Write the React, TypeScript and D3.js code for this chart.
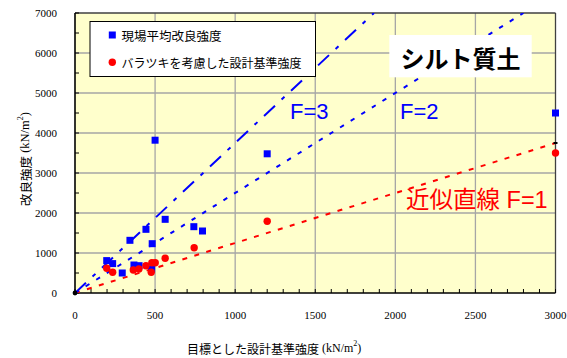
import React from "react";
import * as d3 from "d3";

// Field-average improved strength (kN/m2) vs. target design strength
const fieldAvg: [number, number][] = [
  [198, 810], [235, 735], [295, 500], [343, 1317], [368, 700], [400, 683],
  [443, 1592], [478, 600], [482, 1233], [500, 3820], [563, 1842],
  [742, 1658], [796, 1550], [1200, 3480], [3000, 4500],
];
// Design standard strength taking scatter into account
const designStd: [number, number][] = [
  [198, 617], [235, 517], [364, 575], [399, 600], [443, 683], [476, 517],
  [480, 758], [501, 758], [563, 867], [744, 1133], [1200, 1792], [3000, 3500],
];
// Reference lines y = slope * x
const refLines = [
  { name: "F=1", slope: 1.25 },
  { name: "F=2", slope: 2.5 },
  { name: "F=3", slope: 3.75 },
];
const xTicks = [0, 500, 1000, 1500, 2000, 2500, 3000];
const yTicks = [0, 1000, 2000, 3000, 4000, 5000, 6000, 7000];
const xMinor = d3.range(0, 3001, 100);
const yMinor = d3.range(0, 7001, 500);

const W = 567, H = 358;
const L = 75, R = 555.5, T = 13, B = 293;

const x = d3.scaleLinear().domain([0, 3000]).range([L, R]);
const y = d3.scaleLinear().domain([0, 7000]).range([B, T]);

const serif = "'Liberation Serif', 'DejaVu Serif', serif";
const jp = "'Noto Sans CJK JP', 'Noto Sans', sans-serif";
const sans = "'Liberation Sans', Arial, sans-serif";

const lineStyles: Record<string, { color: string; dash: string }> = {
  "F=1": { color: "#FF0000", dash: "5,7.5" },
  "F=2": { color: "#0000FF", dash: "4.5,8" },
  "F=3": { color: "#0000FF", dash: "15,9,4,9" },
};

export default function App() {
  const line = d3
    .line<[number, number]>()
    .x((d) => x(d[0]))
    .y((d) => y(d[1]));

  return (
    <svg
      width={W}
      height={H}
      style={{ position: "absolute", left: 0, top: 0, background: "#fff" }}
    >
      <defs>
        <clipPath id="plot">
          <rect x={L} y={T} width={R - L} height={B - T} />
        </clipPath>
      </defs>
      <rect x={L} y={T} width={R - L} height={B - T} fill="#FFFFCC" />
      {/* grid */}
      {xTicks.slice(1, -1).map((v) => (
        <line key={"gx" + v} x1={x(v)} x2={x(v)} y1={T} y2={B} stroke="#A6A6A6" strokeWidth={1.3} />
      ))}
      {yTicks.slice(1, -1).map((v) => (
        <line key={"gy" + v} x1={L} x2={R} y1={y(v)} y2={y(v)} stroke="#A6A6A6" strokeWidth={1.3} />
      ))}
      {/* frame */}
      <line x1={L} x2={R} y1={T} y2={T} stroke="#404040" strokeWidth={1.3} />
      <line x1={R} x2={R} y1={T} y2={B} stroke="#404040" strokeWidth={1.3} />
      {/* minor ticks */}
      {xMinor.map((v) => (
        <line key={"mx" + v} x1={x(v)} x2={x(v)} y1={B} y2={B - 4} stroke="#000" strokeWidth={1} />
      ))}
      {yMinor.map((v) => (
        <line key={"my" + v} x1={L} x2={L + 4} y1={y(v)} y2={y(v)} stroke="#000" strokeWidth={1} />
      ))}
      <line x1={L} x2={L} y1={T} y2={B} stroke="#000" strokeWidth={1.6} />
      <line x1={L} x2={R} y1={B} y2={B} stroke="#000" strokeWidth={1.6} />

      {/* reference lines */}
      <g clipPath="url(#plot)">
        {refLines.map((r) => {
          const xEnd = Math.min(3000, 7000 / r.slope);
          const st = lineStyles[r.name];
          return (
            <path
              key={r.name}
              d={line([[0, 0], [xEnd, r.slope * xEnd]]) || ""}
              fill="none"
              stroke={st.color}
              strokeWidth={2}
              strokeDasharray={st.dash}
            />
          );
        })}
      </g>

      {/* fit line end markers */}
      <circle cx={x(0)} cy={y(0)} r={2.4} fill="#000" />
      <rect x={x(3000) - 2} y={y(1.25 * 3000) - 1} width={4} height={2} fill="#000" />

      {/* points */}
      {fieldAvg.map((d, i) => (
        <rect key={"b" + i} x={x(d[0]) - 3.5} y={y(d[1]) - 3.5} width={7} height={7} fill="#0000FF" />
      ))}
      {designStd.map((d, i) => (
        <circle key={"r" + i} cx={x(d[0])} cy={y(d[1])} r={3.7} fill="#FF0000" />
      ))}

      {/* tick labels */}
      {xTicks.map((v) => (
        <text key={"tx" + v} x={x(v)} y={315} fontFamily={serif} fontSize={11} textAnchor="middle" dominantBaseline="central">
          {v}
        </text>
      ))}
      {yTicks.map((v) => (
        <text key={"ty" + v} x={57} y={y(v)} fontFamily={serif} fontSize={11} textAnchor="end" dominantBaseline="central">
          {v}
        </text>
      ))}

      {/* axis titles */}
      <text x={187} y={348} fontSize={12} dominantBaseline="central">
        <tspan fontFamily={jp}>目標とした設計基準強度</tspan>
        <tspan fontFamily={serif}> (kN/m</tspan>
        <tspan fontFamily={serif} fontSize={8} dy={-5}>2</tspan>
        <tspan fontFamily={serif} dy={5}>)</tspan>
      </text>
      <text transform="translate(25,159) rotate(-90)" fontSize={12.5} textAnchor="middle" dominantBaseline="central">
        <tspan fontFamily={jp}>改良強度</tspan>
        <tspan fontFamily={serif}> (kN/m</tspan>
        <tspan fontFamily={serif} fontSize={8} dy={-5}>2</tspan>
        <tspan fontFamily={serif} dy={5}>)</tspan>
      </text>

      {/* legend */}
      <rect x={90} y={21.5} width={225.5} height={55} fill="#fff" stroke="#000" strokeWidth={1} />
      <rect x={112.3 - 3.5} y={35 - 3.5} width={7} height={7} fill="#0000FF" />
      <text x={121.5} y={35} fontFamily={jp} fontSize={12.5} dominantBaseline="central">現場平均改良強度</text>
      <circle cx={112.3} cy={62.3} r={3.7} fill="#FF0000" />
      <text x={121.5} y={62.3} fontFamily={jp} fontSize={12} dominantBaseline="central">バラツキを考慮した設計基準強度</text>

      {/* annotations */}
      <rect x={389.3} y={35} width={142.4} height={42.3} fill="#fff" />
      <text x={460.5} y={57.5} fontFamily={jp} fontSize={24} fontWeight="bold" textAnchor="middle" dominantBaseline="central">シルト質土</text>
      <text x={290} y={119} fontFamily={sans} fontSize={22} fill="#0000FF">F=3</text>
      <text x={400} y={119} fontFamily={sans} fontSize={22} fill="#0000FF">F=2</text>
      <text x={406} y={208} fontSize={23.5} fill="#FF0000">
        <tspan fontFamily={jp}>近似直線</tspan>
        <tspan fontFamily={sans}> F=1</tspan>
      </text>
    </svg>
  );
}
